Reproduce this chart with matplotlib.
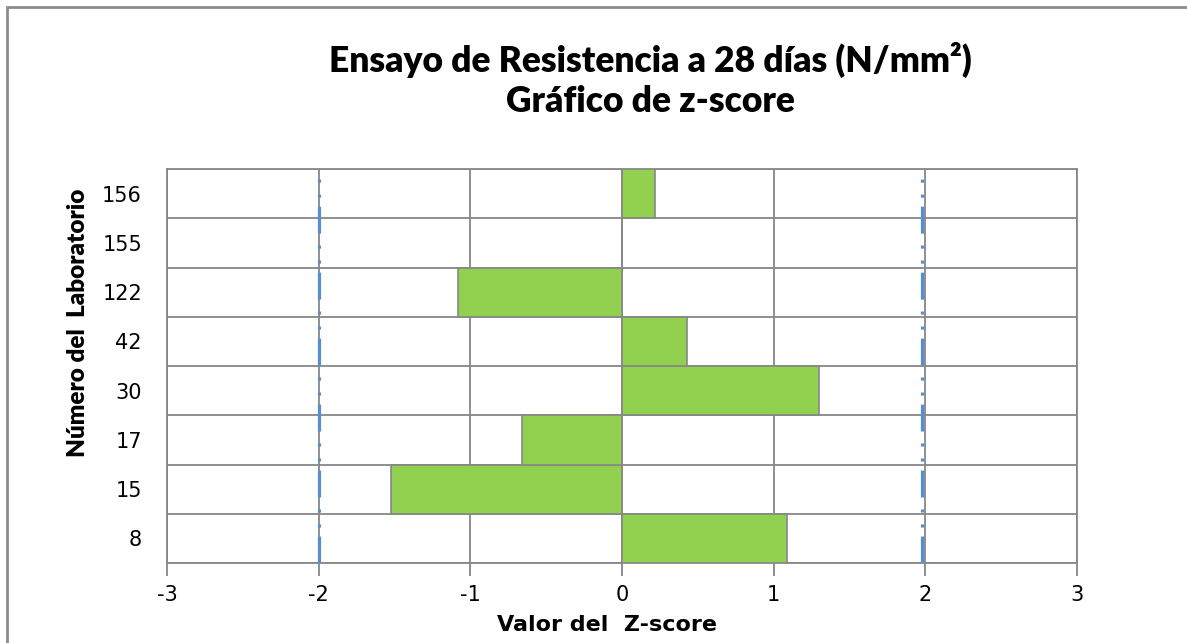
import matplotlib
matplotlib.use("Agg")
import matplotlib.pyplot as plt
import numpy as np
from matplotlib.patches import Rectangle

plt.rcParams["font.family"] = ["Lato", "DejaVu Sans"]
plt.rcParams["lines.scale_dashes"] = False
plt.rcParams["axes.unicode_minus"] = False

labs = ["8", "15", "17", "30", "42", "122", "155", "156"]
zscore = [1.09, -1.52, -0.66, 1.30, 0.43, -1.08, 0.0, 0.22]
lim_lo = -2.0
lim_hi = 1.98

GRID = "#878787"
fig = plt.figure(figsize=(11.87, 6.43), dpi=100)
ax = fig.add_axes([167 / 1187, 1 - 563 / 643, 910 / 1187, 394 / 643])

y = np.arange(len(labs))
ax.barh(y, zscore, height=1.0, color="#92D050", edgecolor=GRID, linewidth=1.2, zorder=3)

dash = (0, (19.4, 6.5, 2.2, 8.6, 2.2, 8.6))
for xv in [lim_lo, lim_hi]:
    ax.axvline(xv, color="#558ED5", lw=2.3, linestyle=dash, zorder=4)

ax.set_xlim(-3, 3)
ax.set_ylim(-0.5, len(labs) - 0.5)
ax.set_xticks(range(-3, 4))
ax.set_yticks(y)
ax.set_yticklabels(labs)
ax.set_yticks(np.arange(-0.5, len(labs)), minor=True)
ax.grid(axis="x", color=GRID, lw=1.3, zorder=1)
ax.grid(axis="y", which="minor", color=GRID, lw=1.3, zorder=1)
ax.tick_params(axis="y", which="both", length=0, pad=18, labelsize=15)
ax.tick_params(axis="x", length=9, width=1.3, color=GRID, pad=7, labelsize=15)
for lab in ax.get_xticklabels() + ax.get_yticklabels():
    lab.set_family("DejaVu Sans")
for s in ax.spines.values():
    s.set_color(GRID)
    s.set_linewidth(1.3)

fig.text(650 / 1187, 1 - 60 / 643, "Ensayo de Resistencia a 28 días (N/mm²)",
         ha="center", va="center", fontsize=25.5, fontweight="heavy")
fig.text(650 / 1187, 1 - 102 / 643, "Gráfico de z-score",
         ha="center", va="center", fontsize=25.5, fontweight="heavy")
fig.text(607 / 1187, 1 - 625 / 643, "Valor del  Z-score", family="DejaVu Sans",
         ha="center", va="center", fontsize=16, fontweight="bold")
fig.text(78 / 1187, 1 - 323 / 643, "Número del  Laboratorio", rotation=90,
         ha="center", va="center", fontsize=17.5, fontweight="heavy")

# chart border
fig.patches.append(Rectangle((7 / 1187, -0.1), 1.2, 1 - 7 / 643 + 0.1,
                             transform=fig.transFigure, fill=False,
                             edgecolor="#8c8c8c", lw=2))

fig.savefig("out.png", dpi=100)
